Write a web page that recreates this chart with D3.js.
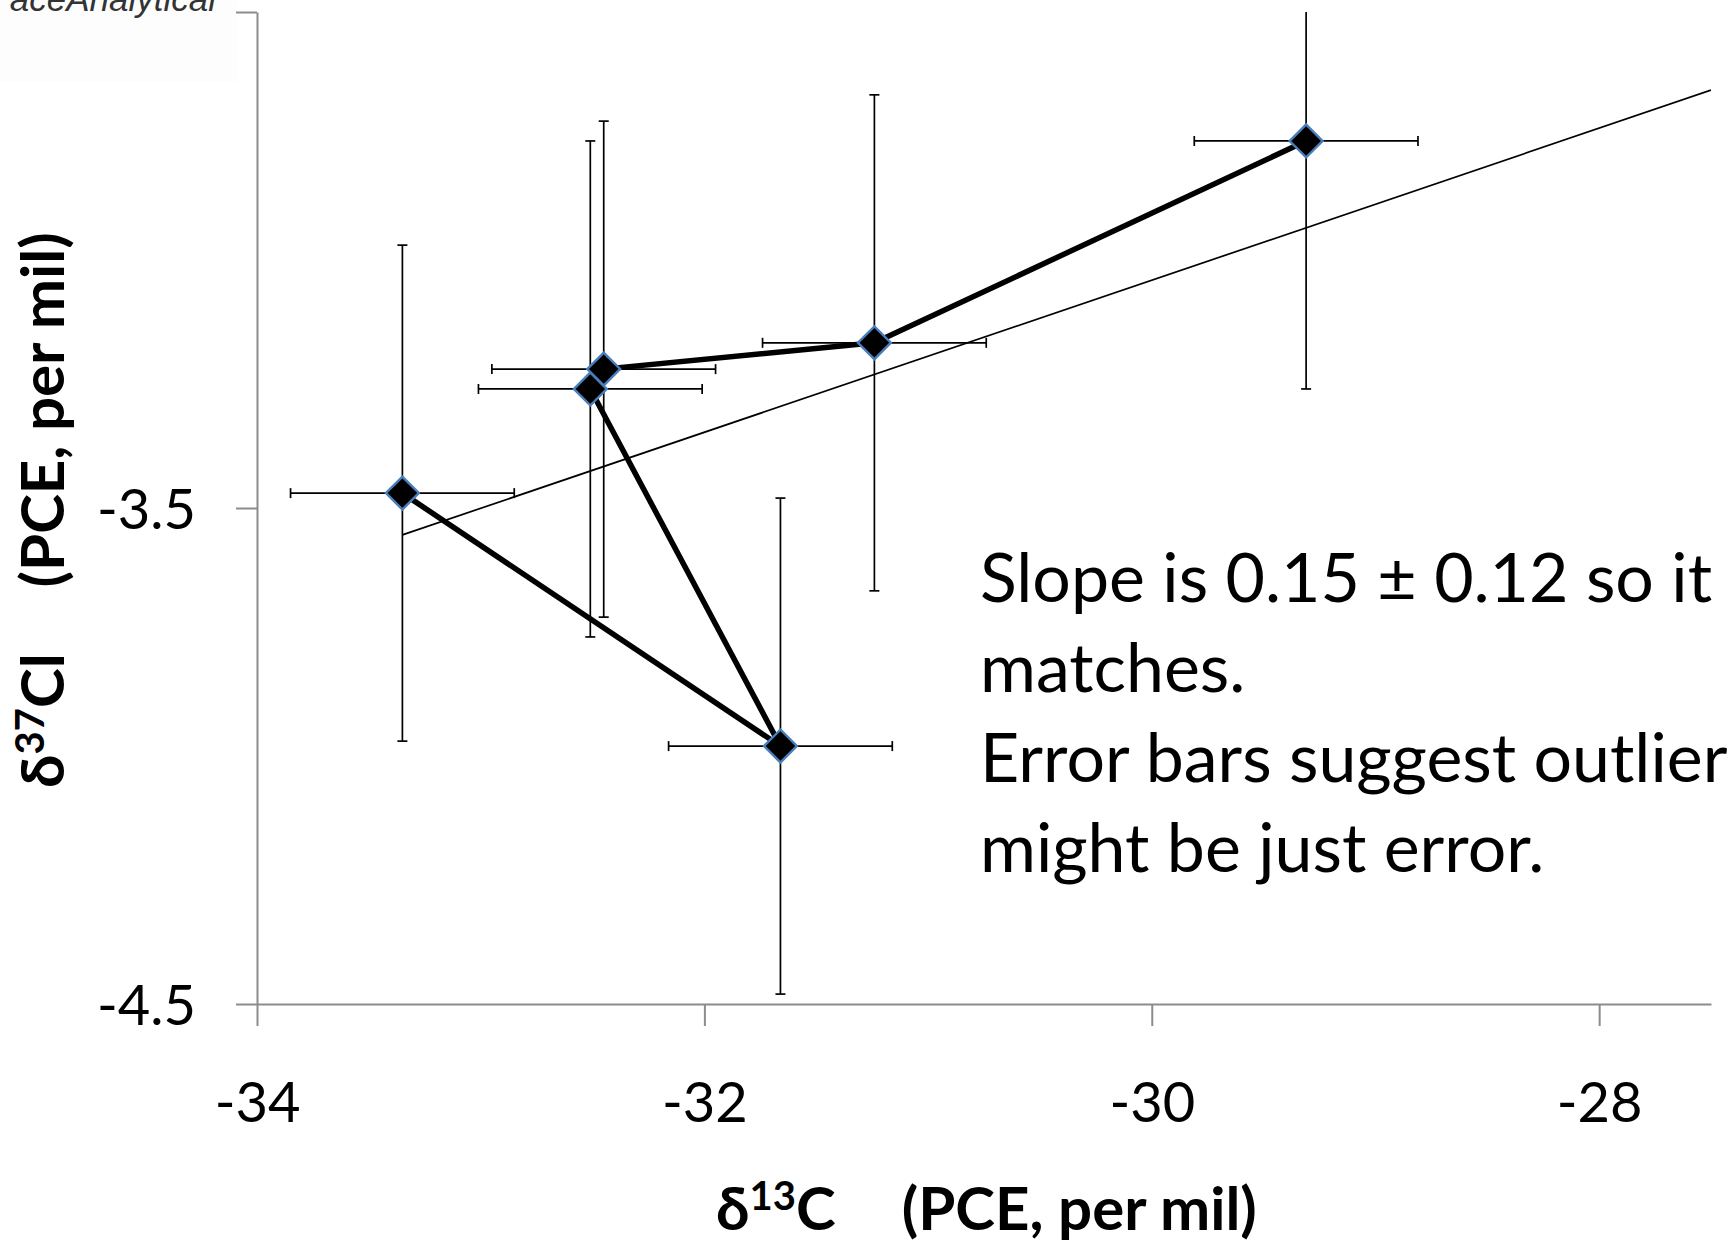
<!DOCTYPE html>
<html>
<head>
<meta charset="utf-8">
<script src="https://cdn.jsdelivr.net/npm/d3@7"></script>
<style>
  html, body { margin: 0; padding: 0; background: #ffffff; }
  svg { display: block; }
  text { font-family: Lato, "Open Sans", sans-serif; }
</style>
</head>
<body>
<div id="chart"></div>
<script>
// measured points, in data order (the thick line follows this order)
const c13Values = [-33.35, -31.66, -32.51, -32.45, -31.24, -29.31];
const cl37Values = [-3.47, -3.98, -3.26, -3.22, -3.167, -2.76];
const c13Errors = [0.5, 0.5, 0.5, 0.5, 0.5, 0.5];
const cl37Errors = [0.5, 0.5, 0.5, 0.5, 0.5, 0.5];

const xTicks = [-34, -32, -30, -28];
const yTicks = [-4.5, -3.5, -2.5];
const yTickLabels = ['-4.5', '-3.5', ''];
const xDomain = [-34, -27.5];
const yDomain = [-4.5, -2.5];

const noteLines = [
    'Slope is 0.15 \u00b1 0.12 so it',
    'matches.',
    'Error bars suggest outlier',
    'might be just error.'
];

const W = 1729, H = 1247;
const plot = { left: 257, right: 1711, top: 12, bottom: 1004 };
const axisColor = '#8c8c8c';

const points = c13Values.map((x, i) => ({
    x: x, y: cl37Values[i], ex: c13Errors[i], ey: cl37Errors[i]
}));

const svg = d3.select('#chart').append('svg')
    .attr('width', W)
    .attr('height', H);

svg.append('rect')
    .attr('width', W).attr('height', H)
    .attr('fill', '#ffffff');

// faint logo box top-left (logo text is cut by the slide edge)
svg.append('rect')
    .attr('x', 0).attr('y', 0)
    .attr('width', 237).attr('height', 82)
    .attr('fill', '#fdfdfd');

svg.append('text')
    .attr('x', 216)
    .attr('y', 11)
    .attr('text-anchor', 'end')
    .style('font-family', '"Liberation Sans", Arial, sans-serif')
    .style('font-style', 'italic')
    .style('font-size', '35px')
    .style('fill', '#333')
    .text('aceAnalytical');

const x = d3.scaleLinear().domain(xDomain).range([plot.left, plot.right]);
const y = d3.scaleLinear().domain(yDomain).range([plot.bottom, plot.top]);

// axes
const xAxis = d3.axisBottom(x)
    .tickValues(xTicks)
    .tickSize(22)
    .tickSizeOuter(0)
    .tickPadding(56)
    .tickFormat(d3.format('d'));

const yAxis = d3.axisLeft(y)
    .tickValues(yTicks)
    .tickSize(21)
    .tickSizeOuter(0)
    .tickPadding(40)
    .tickFormat((d, i) => yTickLabels[i]);

const gx = svg.append('g')
    .attr('transform', `translate(0,${plot.bottom})`)
    .call(xAxis);

const gy = svg.append('g')
    .attr('transform', `translate(${plot.left},0)`)
    .call(yAxis);

[gx, gy].forEach(g => {
    g.select('.domain').attr('stroke', axisColor).attr('stroke-width', 2);
    g.selectAll('.tick line').attr('stroke', axisColor).attr('stroke-width', 2);
    g.selectAll('.tick text')
        .attr('fill', '#000')
        .style('font-family', 'Lato, sans-serif')
        .style('font-size', '56px');
});
gx.selectAll('.tick text').text(d => d3.format('d')(d).replace('\u2212', '-'));
gy.selectAll('.tick text').attr('dy', '0.36em');

// clip region for the plot
svg.append('clipPath').attr('id', 'plotClip')
    .append('rect')
    .attr('x', plot.left).attr('y', plot.top)
    .attr('width', plot.right - plot.left)
    .attr('height', plot.bottom - plot.top);

const g = svg.append('g').attr('clip-path', 'url(#plotClip)');

// error bars
const cap = 5;
const bars = g.append('g')
    .attr('stroke', '#000')
    .attr('stroke-width', 1.7)
    .attr('fill', 'none');

points.forEach(p => {
    const cx = x(p.x), cy = y(p.y);
    const x0 = x(p.x - p.ex), x1 = x(p.x + p.ex);
    const y0 = y(p.y - p.ey), y1 = y(p.y + p.ey);
    bars.append('line').attr('x1', x0).attr('x2', x1).attr('y1', cy).attr('y2', cy);
    bars.append('line').attr('x1', x0).attr('x2', x0).attr('y1', cy - cap).attr('y2', cy + cap);
    bars.append('line').attr('x1', x1).attr('x2', x1).attr('y1', cy - cap).attr('y2', cy + cap);
    bars.append('line').attr('x1', cx).attr('x2', cx).attr('y1', y0).attr('y2', y1);
    bars.append('line').attr('x1', cx - cap).attr('x2', cx + cap).attr('y1', y0).attr('y2', y0);
    bars.append('line').attr('x1', cx - cap).attr('x2', cx + cap).attr('y1', y1).attr('y2', y1);
});

// linear trendline, least squares over the points, drawn to the axis max
const mx = d3.mean(points, d => d.x);
const my = d3.mean(points, d => d.y);
const slope = d3.sum(points, d => (d.x - mx) * (d.y - my)) / d3.sum(points, d => (d.x - mx) ** 2);
const trendAt = v => my + slope * (v - mx);
const trendX = [d3.min(points, d => d.x), xDomain[1]];

g.append('path')
    .datum(trendX.map(v => ({ x: v, y: trendAt(v) })))
    .attr('d', d3.line().x(d => x(d.x)).y(d => y(d.y)))
    .attr('fill', 'none')
    .attr('stroke', '#000')
    .attr('stroke-width', 1.7);

// connecting line
g.append('path')
    .datum(points)
    .attr('d', d3.line().x(d => x(d.x)).y(d => y(d.y)))
    .attr('fill', 'none')
    .attr('stroke', '#000')
    .attr('stroke-width', 5.5)
    .attr('stroke-linejoin', 'round');

// diamond markers
const diamond = d3.symbol().type(d3.symbolSquare).size(540);
g.selectAll('.marker')
    .data(points)
    .enter()
    .append('path')
    .attr('class', 'marker')
    .attr('d', diamond)
    .attr('transform', d => `translate(${x(d.x)},${y(d.y)}) rotate(45)`)
    .attr('fill', '#000')
    .attr('stroke', '#4a7ebb')
    .attr('stroke-width', 2.4);

// axis titles
const xTitle = svg.append('text')
    .attr('x', 716)
    .attr('y', 1230)
    .style('font-weight', 'bold')
    .style('font-size', '60px')
    .attr('fill', '#000');
xTitle.append('tspan').text('\u03b4');
xTitle.append('tspan').attr('dy', -20).style('font-size', '40px').text('13');
xTitle.append('tspan').attr('dy', 20).text('C');
xTitle.append('tspan').attr('dx', 66).text('(PCE, per mil)');

const yTitle = svg.append('text')
    .attr('transform', 'translate(64,788) rotate(-90)')
    .style('font-weight', 'bold')
    .style('font-size', '60px')
    .attr('fill', '#000');
yTitle.append('tspan').text('\u03b4');
yTitle.append('tspan').attr('dy', -20).style('font-size', '40px').text('37');
yTitle.append('tspan').attr('dy', 20).text('Cl');
yTitle.append('tspan').attr('dx', 66).text('(PCE, per mil)');

// note
svg.append('g')
    .selectAll('text')
    .data(noteLines)
    .enter()
    .append('text')
    .attr('x', 980)
    .attr('y', (d, i) => 602 + i * 90)
    .style('font-size', '68px')
    .attr('fill', '#000')
    .text(d => d);
</script>
</body>
</html>
